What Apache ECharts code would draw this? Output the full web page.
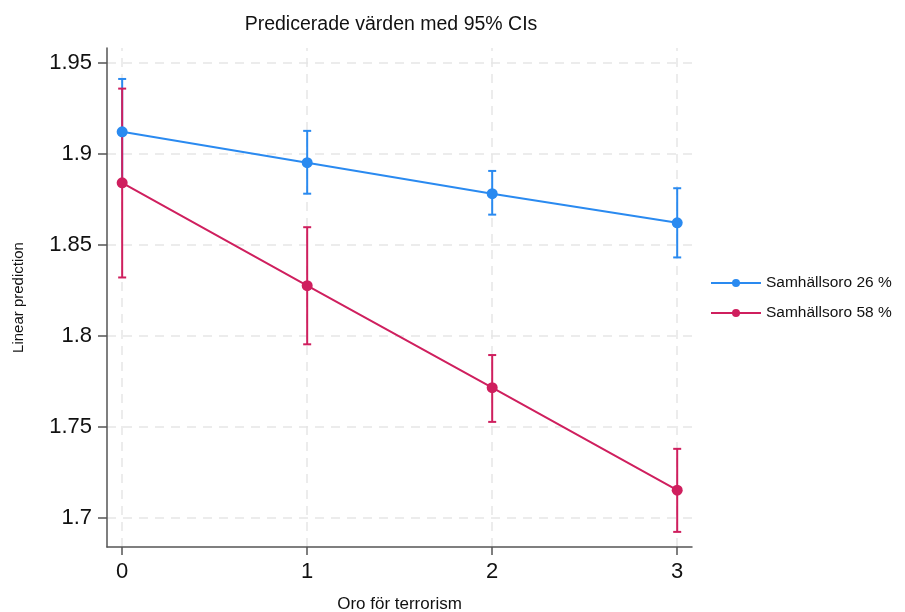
<!DOCTYPE html>
<html><head><meta charset="utf-8">
<script src="https://cdn.jsdelivr.net/npm/echarts@6/dist/echarts.min.js"></script>
<style>html,body{margin:0;padding:0;background:#fff}#c{width:905px;height:612px}</style>
</head><body><div id="c"></div>
<script>
const xCats = [0, 1, 2, 3];
const yTicks = [1.7, 1.75, 1.8, 1.85, 1.9, 1.95];
const seriesNames = ['Samhällsoro 26 %', 'Samhällsoro 58 %'];
const blueMean = [1.912, 1.895, 1.878, 1.862];
const blueLow  = [1.883, 1.878, 1.8665, 1.843];
const blueHigh = [1.941, 1.9125, 1.8905, 1.881];
const redMean  = [1.884, 1.8275, 1.7715, 1.7152];
const redLow   = [1.832, 1.7953, 1.7527, 1.6923];
const redHigh  = [1.9357, 1.8596, 1.7894, 1.7379];

const BLUE = '#2a8af0', RED = '#cf1f5e';
const FONT = 'Liberation Sans, Arial, sans-serif';

function errData(low, high){ return xCats.map((x,i)=>[x, low[i], high[i]]); }
function errRender(color){
  return function(params, api){
    const x = api.value(0);
    const lo = api.coord([x, api.value(1)]);
    const hi = api.coord([x, api.value(2)]);
    const w = 4;
    const style = {stroke: color, lineWidth: 2, fill: null};
    return {type:'group', children:[
      {type:'line', shape:{x1:lo[0], y1:lo[1], x2:hi[0], y2:hi[1]}, style},
      {type:'line', shape:{x1:lo[0]-w, y1:lo[1], x2:lo[0]+w, y2:lo[1]}, style},
      {type:'line', shape:{x1:hi[0]-w, y1:hi[1], x2:hi[0]+w, y2:hi[1]}, style}
    ]};
  };
}

const chart = echarts.init(document.getElementById('c'), null, {renderer:'canvas'});
chart.setOption({
  animation:false,
  textStyle:{fontFamily:FONT},
  title:{text:'Predicerade värden med 95% CIs', left:386, top:10, textAlign:'center',
    textStyle:{fontFamily:FONT, fontSize:19.5, fontWeight:'normal', color:'#111'}},
  legend:{orient:'vertical', left:705, top:270, itemWidth:50, itemHeight:10, itemGap:14,
    data:seriesNames, textStyle:{fontFamily:FONT, fontSize:15.5, color:'#111'}},
  grid:{left:107, right:213, top:48, bottom:65, containLabel:false, outerBoundsMode:'none'},
  xAxis:{type:'value', min:-0.082, max:3.08,
    name:'Oro för terrorism', nameLocation:'middle', nameGap:49,
    nameTextStyle:{fontFamily:FONT, fontSize:17, color:'#111'},
    axisLine:{show:true, onZero:false, lineStyle:{color:'#555', width:1.5}},
    axisTick:{show:true, length:8, customValues:xCats, lineStyle:{color:'#555', width:1.5}},
    axisLabel:{customValues:xCats, margin:14, fontSize:22, color:'#111', fontFamily:FONT},
    splitLine:{show:false}},
  yAxis:{type:'value', min:1.684, max:1.958,
    name:'Linear prediction', nameLocation:'middle', nameGap:81,
    nameTextStyle:{fontFamily:FONT, fontSize:15, color:'#111'},
    axisLine:{show:true, onZero:false, lineStyle:{color:'#555', width:1.5}},
    axisTick:{show:true, length:9, customValues:yTicks, lineStyle:{color:'#555', width:1.5}},
    axisLabel:{customValues:yTicks, margin:15, fontSize:22, color:'#111', fontFamily:FONT},
    splitLine:{show:false}},
  series:[
    {name:'grid', type:'line', data:[], silent:true, z:0,
      markLine:{silent:true, symbol:'none', label:{show:false}, z:0,
        lineStyle:{color:'#e6e6e6', type:[9,7], width:1.5},
        data: yTicks.map(v=>({yAxis:v})).concat(xCats.map(v=>({xAxis:v})))}},
    {name:'errBlue', type:'custom', renderItem:errRender(BLUE), data:errData(blueLow, blueHigh), z:3},
    {name:'errRed', type:'custom', renderItem:errRender(RED), data:errData(redLow, redHigh), z:3},
    {name:seriesNames[0], type:'line', data:xCats.map((x,i)=>[x, blueMean[i]]),
      symbol:'circle', symbolSize:11, itemStyle:{color:BLUE}, lineStyle:{color:BLUE, width:2}, z:4},
    {name:seriesNames[1], type:'line', data:xCats.map((x,i)=>[x, redMean[i]]),
      symbol:'circle', symbolSize:11, itemStyle:{color:RED}, lineStyle:{color:RED, width:2}, z:4}
  ]
});
</script></body></html>
